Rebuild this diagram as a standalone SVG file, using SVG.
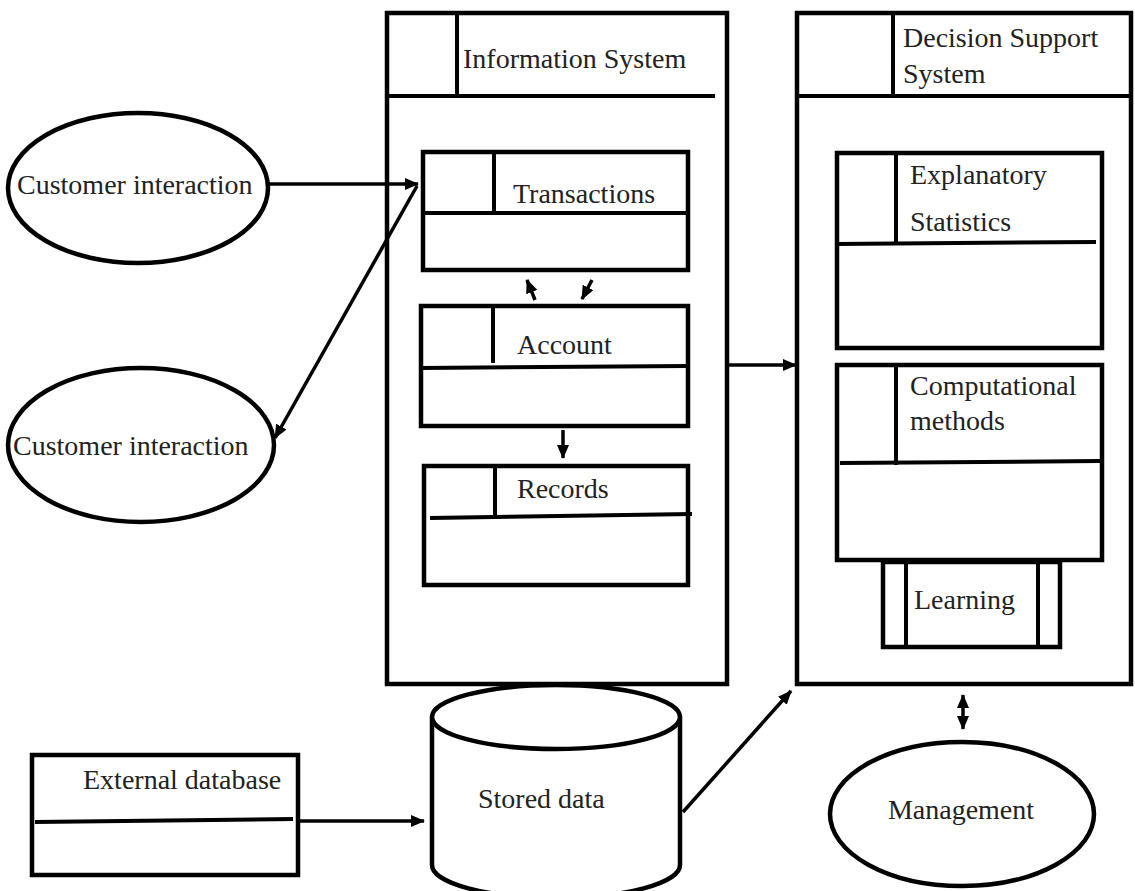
<svg xmlns="http://www.w3.org/2000/svg" width="1135" height="891" viewBox="0 0 1135 891">
<defs>
<style>
.b{fill:#fff;stroke:#000;stroke-width:4.5}
.l{fill:none;stroke:#000;stroke-width:4}
.c{fill:none;stroke:#000;stroke-width:3.5}
.t{font-family:'Liberation Serif','DejaVu Serif','Times New Roman',Times,serif;font-size:28px;fill:#222}
</style>
<marker id="ah" viewBox="0 0 14 12" refX="13" refY="6" markerWidth="14" markerHeight="12" markerUnits="userSpaceOnUse" orient="auto-start-reverse">
<path d="M0,0 L14,6 L0,12 Z" fill="#000"/>
</marker>
</defs>
<rect width="1135" height="891" fill="#fff"/>

<g id="information-system">
<rect class="b" x="387" y="13" width="340" height="671"/>
<line class="l" x1="387" y1="96" x2="715" y2="96"/>
<line class="l" x1="457" y1="13" x2="457" y2="96"/>
<text class="t" x="463" y="68">Information System</text>
</g>

<g id="transactions">
<rect class="b" x="423" y="152" width="265" height="118"/>
<line class="l" x1="423" y1="213" x2="688" y2="213"/>
<line class="l" x1="494" y1="152" x2="494" y2="213"/>
<text class="t" x="513" y="203">Transactions</text>
</g>

<g id="account">
<rect class="b" x="421" y="306" width="267" height="120"/>
<line class="l" x1="421" y1="368" x2="688" y2="366"/>
<line class="l" x1="493" y1="306" x2="493" y2="363"/>
<text class="t" x="517" y="354">Account</text>
</g>

<g id="records">
<rect class="b" x="424" y="466" width="264" height="119"/>
<line class="l" x1="430" y1="518" x2="692" y2="514"/>
<line class="l" x1="495" y1="466" x2="495" y2="517"/>
<text class="t" x="517" y="498">Records</text>
</g>

<g id="decision-support-system">
<rect class="b" x="797" y="13" width="334" height="671"/>
<line class="l" x1="797" y1="96" x2="1133" y2="96"/>
<line class="l" x1="893" y1="13" x2="893" y2="96"/>
<text class="t" x="903" y="47">Decision Support</text>
<text class="t" x="903" y="83">System</text>
</g>

<g id="explanatory-statistics">
<rect class="b" x="837" y="153" width="265" height="195"/>
<line class="l" x1="835" y1="244" x2="1096" y2="242"/>
<line class="l" x1="896" y1="153" x2="896" y2="243"/>
<text class="t" x="910" y="184">Explanatory</text>
<text class="t" x="910" y="231">Statistics</text>
</g>

<g id="computational-methods">
<rect class="b" x="837" y="365" width="265" height="195"/>
<line class="l" x1="840" y1="463" x2="1100" y2="461"/>
<line class="l" x1="896" y1="365" x2="896" y2="465"/>
<text class="t" x="910" y="395">Computational</text>
<text class="t" x="910" y="430">methods</text>
</g>

<g id="learning">
<rect class="b" x="883" y="562" width="177" height="85"/>
<line class="l" x1="906" y1="562" x2="906" y2="647"/>
<line class="l" x1="1038" y1="562" x2="1038" y2="647"/>
<text class="t" x="914" y="609">Learning</text>
</g>

<g id="customer-interaction-1">
<ellipse class="b" cx="138" cy="188" rx="130" ry="75"/>
<text class="t" x="17" y="194">Customer interaction</text>
</g>

<g id="customer-interaction-2">
<ellipse class="b" cx="141" cy="445" rx="133" ry="77"/>
<text class="t" x="13" y="455">Customer interaction</text>
</g>

<g id="external-database">
<rect class="b" x="32" y="755" width="266" height="120"/>
<line class="l" x1="35" y1="822" x2="293" y2="819"/>
<text class="t" x="83" y="789">External database</text>
</g>

<g id="stored-data">
<path class="b" d="M432,717 L432,865 A124,33 0 0 0 680,865 L680,717"/>
<ellipse class="b" cx="556" cy="717" rx="124" ry="32"/>
<text class="t" x="478" y="808">Stored data</text>
</g>

<g id="management">
<ellipse class="b" cx="962" cy="814" rx="132" ry="72"/>
<text class="t" x="961" y="819" text-anchor="middle">Management</text>
</g>

<g id="connectors">
<line class="c" x1="268" y1="184" x2="418" y2="184" marker-end="url(#ah)"/>
<line class="c" x1="417" y1="186" x2="275" y2="438" marker-end="url(#ah)"/>
<line class="c" x1="535" y1="300" x2="527" y2="280" marker-end="url(#ah)"/>
<line class="c" x1="592" y1="280" x2="582" y2="299" marker-end="url(#ah)"/>
<line class="c" x1="563" y1="430" x2="563" y2="458" marker-end="url(#ah)"/>
<line class="c" x1="729" y1="365" x2="796" y2="365" marker-end="url(#ah)"/>
<line class="c" x1="298" y1="821" x2="424" y2="821" marker-end="url(#ah)"/>
<line class="c" x1="683" y1="812" x2="791" y2="691" marker-end="url(#ah)"/>
<line class="c" x1="963" y1="695" x2="963" y2="729" marker-start="url(#ah)" marker-end="url(#ah)"/>
</g>
</svg>
